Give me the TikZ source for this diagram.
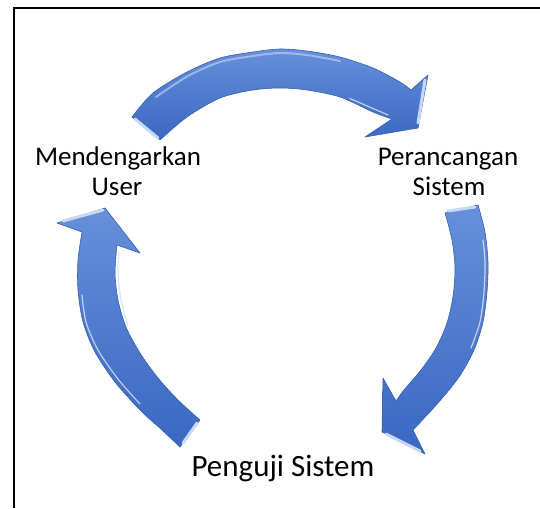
\documentclass[tikz,border=0pt]{standalone}
\usepackage{fontspec}
\setmainfont{Carlito}
\definecolor{arrtop}{HTML}{6690DA}
\definecolor{arrbot}{HTML}{3A67C2}
\definecolor{arredge}{HTML}{3561B4}
\definecolor{arrhi}{HTML}{C6D8F6}
\begin{document}
\begin{tikzpicture}[x=1pt,y=-1pt,
  arrowbody/.style={top color=arrtop,bottom color=arrbot,draw=arredge,line width=0.6pt,line join=round},
  bevelface/.style={draw=arrhi,line width=3pt,line cap=round},
  gloss/.style={draw=white,opacity=0.65,line width=1.2pt,line cap=round},
  lbl/.style={font=\fontsize{27}{30}\selectfont,anchor=base,inner sep=0pt},
  lblbig/.style={font=\fontsize{31}{34}\selectfont,anchor=base,inner sep=0pt}]
\useasboundingbox (0,0) rectangle (540,508);
\fill[white] (0,0) rectangle (540,508);
\draw[line width=1.6pt,line join=miter] (540,8) -- (14,8) -- (14,508);

% top arrow
\path[arrowbody] plot[smooth] coordinates {(132,117) (153,93) (187,72) (220,58) (253,52) (280,49) (307,51) (340,57) (373,68) (400,82) (411,90)}
  -- (428,75) -- (418,128) -- (365,137) -- (392,119)
  -- plot[smooth] coordinates {(392,119) (373,112) (340,97) (307,90) (280,88) (253,90) (220,98) (187,117) (160,140)} -- cycle;
\draw[bevelface] (135,119) -- (158,138);
\draw[bevelface] (425,80) -- (418,123);
\draw[gloss,draw=arrhi,opacity=0.6,line width=2pt] plot[smooth] coordinates {(156,97) (188,76) (220,62) (253,56) (280,53) (307,55) (340,61)};
\draw[gloss] plot[smooth] coordinates {(388,115) (373,108.5) (350,98.5)};

% right arrow
\path[arrowbody] plot[smooth] coordinates {(478,205) (485,232) (488,262) (487,292) (483,322) (474,350) (459,377) (438,403) (413,430)}
  -- (425,454) -- (382,432) -- (383,378) -- (396,401)
  -- plot[smooth] coordinates {(396,401) (404,390) (421,370) (436,348) (447,323) (453,296) (455,268) (452,240) (445,213)} -- cycle;
\draw[bevelface] (448,211) -- (475,207);
\draw[bevelface] (386,434) -- (420,451);
\draw[gloss] plot[smooth] coordinates {(483,240) (485,262) (484,292) (480,322) (471,348)};

% left arrow
\path[arrowbody] plot[smooth] coordinates {(180,447) (162,430) (140,410) (115,382) (95,352) (83,322) (78,290) (78,260) (82,232)}
  -- (57,223) -- (105,208) -- (140,253) -- (117,245)
  -- plot[smooth] coordinates {(117,245) (115,273) (118,300) (126,327) (140,353) (158,378) (178,400) (200,420)} -- cycle;
\draw[bevelface] (63,221) -- (103,210);
\draw[bevelface] (183,443) -- (197,423);
\draw[gloss] plot[smooth] coordinates {(82,295) (86,322) (98,350) (118,379) (140,404)};
\draw[gloss,draw=arrhi] plot[smooth] coordinates {(119,252) (118,273) (121,300) (128,325)};

% labels
\node[lbl] (mend) at (118,165) {Mendengarkan};
\node[lbl] (user) at (117,195) {User};
\node[lbl] (peran) at (448,165) {Perancangan};
\node[lbl] (sist) at (449,195) {Sistem};
\node[lblbig] (uji) at (283,476) {Penguji Sistem};
\end{tikzpicture}
\end{document}
